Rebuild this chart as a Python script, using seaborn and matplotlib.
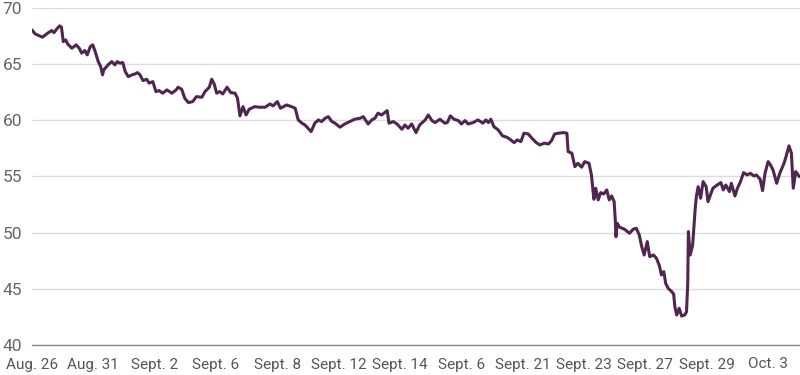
import numpy as np
import pandas as pd
import matplotlib
matplotlib.use("Agg")
import matplotlib.pyplot as plt
import seaborn as sns

# x is measured in tick units (0 = Aug. 26 ... 12 = Oct. 3)
tick_labels = ["Aug. 26", "Aug. 31", "Sept. 2", "Sept. 6", "Sept. 8", "Sept. 12",
               "Sept. 14", "Sept. 6", "Sept. 21", "Sept. 23", "Sept. 27", "Sept. 29", "Oct. 3"]

pos = [0.00, 0.05, 0.17, 0.24, 0.32, 0.36, 0.40, 0.45, 0.48, 0.51, 0.55, 0.58, 0.65, 0.72,
       0.77, 0.81, 0.86, 0.90, 0.95, 0.99, 1.03, 1.08, 1.12, 1.15, 1.17, 1.24, 1.30, 1.35,
       1.39, 1.43, 1.48, 1.52, 1.57, 1.63, 1.68, 1.72, 1.76, 1.81, 1.87, 1.91, 1.97, 2.02,
       2.07, 2.13, 2.20, 2.28, 2.35, 2.38, 2.44, 2.49, 2.55, 2.62, 2.68, 2.77, 2.82, 2.89,
       2.93, 2.97, 3.01, 3.06, 3.11, 3.18, 3.24, 3.31, 3.35, 3.39, 3.44, 3.49, 3.54, 3.63,
       3.70, 3.80, 3.88, 3.93, 4.00, 4.05, 4.10, 4.15, 4.23, 4.29, 4.34, 4.40, 4.45, 4.50,
       4.55, 4.61, 4.67, 4.72, 4.78, 4.83, 4.89, 4.94, 5.02, 5.10, 5.18, 5.26, 5.35, 5.40,
       5.48, 5.54, 5.59, 5.64, 5.70, 5.75, 5.79, 5.82, 5.89, 5.95, 6.03, 6.08, 6.13, 6.19,
       6.26, 6.32, 6.41, 6.46, 6.52, 6.57, 6.65, 6.73, 6.77, 6.82, 6.88, 6.95, 7.00, 7.06,
       7.11, 7.19, 7.27, 7.35, 7.40, 7.44, 7.48, 7.53, 7.60, 7.67, 7.74, 7.79, 7.86, 7.91,
       7.97, 8.02, 8.09, 8.15, 8.22, 8.28, 8.35, 8.42, 8.47, 8.52, 8.59, 8.66, 8.72, 8.74,
       8.80, 8.85, 8.90, 8.96, 9.01, 9.08, 9.12, 9.14, 9.16, 9.19, 9.23, 9.27, 9.32, 9.37,
       9.41, 9.45, 9.49, 9.51, 9.52, 9.54, 9.58, 9.66, 9.74, 9.80, 9.85, 9.90, 9.94, 9.98,
       10.03, 10.07, 10.13, 10.18, 10.23, 10.26, 10.30, 10.33, 10.37, 10.43, 10.46, 10.48,
       10.51, 10.55, 10.59, 10.64, 10.67, 10.69, 10.70, 10.73, 10.77, 10.81, 10.83, 10.86,
       10.90, 10.94, 10.99, 11.02, 11.06, 11.10, 11.17, 11.23, 11.27, 11.31, 11.37, 11.40,
       11.46, 11.50, 11.55, 11.60, 11.66, 11.71, 11.77, 11.81, 11.87, 11.91, 11.95, 12.00,
       12.04, 12.08, 12.14, 12.19, 12.26, 12.30, 12.34, 12.38, 12.41, 12.45, 12.51]

price = [68.04, 67.69, 67.39, 67.69, 67.98, 67.80, 68.10, 68.40, 68.28, 67.00, 67.15, 66.80,
         66.41, 66.71, 66.41, 65.97, 66.20, 65.82, 66.55, 66.71, 66.11, 65.22, 64.77, 64.04,
         64.48, 64.93, 65.22, 64.93, 65.22, 65.08, 65.13, 64.33, 63.88, 64.04, 64.12, 64.24,
         64.04, 63.53, 63.65, 63.30, 63.44, 62.55, 62.64, 62.41, 62.70, 62.41, 62.70, 62.94,
         62.76, 61.96, 61.57, 61.66, 62.10, 62.05, 62.55, 62.94, 63.65, 63.23, 62.41, 62.55,
         62.34, 62.94, 62.46, 62.41, 61.96, 60.39, 61.21, 60.47, 60.98, 61.21, 61.16, 61.16,
         61.45, 61.28, 61.66, 61.07, 61.21, 61.36, 61.21, 61.07, 60.03, 59.74, 59.58, 59.29,
         58.99, 59.74, 60.03, 59.88, 60.18, 60.32, 59.88, 59.74, 59.38, 59.67, 59.88, 60.09,
         60.18, 60.32, 59.67, 60.03, 60.18, 60.63, 60.47, 60.68, 60.86, 59.74, 59.88, 59.67,
         59.20, 59.58, 59.29, 59.67, 58.90, 59.58, 60.03, 60.47, 59.97, 59.79, 60.09, 59.74,
         59.79, 60.39, 60.09, 59.97, 59.67, 59.97, 59.67, 59.79, 60.03, 59.74, 60.03, 59.79,
         60.09, 59.43, 59.14, 58.61, 58.49, 58.31, 58.01, 58.25, 58.10, 58.85, 58.78, 58.40,
         58.01, 57.80, 57.96, 57.89, 58.19, 58.78, 58.85, 58.90, 58.85, 57.21, 57.07, 55.87,
         56.17, 55.82, 56.32, 56.17, 55.13, 54.09, 52.97, 53.95, 52.91, 53.56, 53.44, 53.80,
         52.91, 53.26, 52.76, 50.98, 49.64, 50.83, 50.48, 50.30, 49.94, 50.30, 50.39, 49.79,
         48.75, 48.01, 49.20, 47.86, 48.01, 47.72, 47.03, 46.23, 46.53, 45.49, 45.05, 44.74,
         44.54, 43.41, 42.67, 43.27, 42.58, 42.67, 42.96, 45.49, 50.09, 48.01, 48.90, 52.02,
         53.20, 54.09, 53.06, 54.54, 54.09, 52.76, 53.35, 53.95, 54.24, 54.45, 53.80, 54.24,
         53.65, 54.39, 53.26, 53.95, 54.54, 55.34, 55.13, 55.28, 55.04, 55.13, 54.75, 53.74,
         55.28, 56.32, 56.02, 55.58, 54.39, 55.28, 56.17, 56.91, 57.72, 57.07, 53.95, 55.43,
         54.98]

df = pd.DataFrame({"pos": pos, "price": price})

sns.set_style("white")
plt.rcParams['font.family'] = ['Roboto', 'DejaVu Sans']

fig = plt.figure(figsize=(8, 3.75), dpi=100)
ax = fig.add_axes([0.04, 0.08, 0.96, 0.899])

sns.lineplot(data=df, x="pos", y="price", color="#502550", linewidth=2.2, ax=ax)

ax.set_xlim(0, 12.52)
ax.set_ylim(40, 70)
ax.set_yticks([40, 45, 50, 55, 60, 65, 70])
ax.set_xticks(range(len(tick_labels)))
ax.set_xticklabels(tick_labels)
ax.set_xlabel("")
ax.set_ylabel("")

ax.grid(axis="y", color="#dddddd", linewidth=1)
ax.set_axisbelow(True)
for s in ["top", "right", "left"]:
    ax.spines[s].set_visible(False)
ax.spines["bottom"].set_color("#888888")
ax.spines["bottom"].set_linewidth(1)

ax.tick_params(axis="x", colors="#888888", length=5, width=1, labelsize=11,
               labelcolor="#555555", pad=4)
ax.tick_params(axis="y", length=0, labelsize=12.5, labelcolor="#666666", pad=21)
for lab in ax.get_yticklabels():
    lab.set_horizontalalignment("left")

fig.savefig("out.png", dpi=100)
